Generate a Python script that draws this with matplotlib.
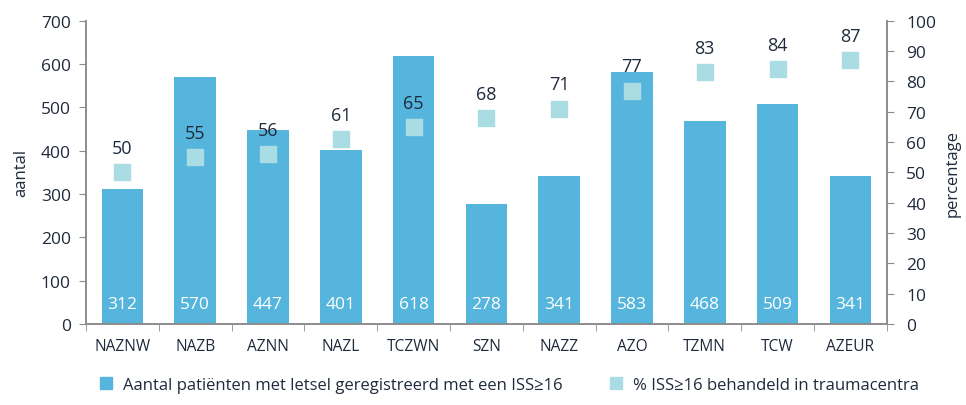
import numpy as np
import matplotlib.pyplot as plt
from matplotlib.lines import Line2D

plt.rcParams['font.family'] = ['Open Sans', 'DejaVu Sans']

# === Data ===
regions = ["NAZNW", "NAZB", "AZNN", "NAZL", "TCZWN", "SZN",
           "NAZZ", "AZO", "TZMN", "TCW", "AZEUR"]
aantal = [312, 570, 447, 401, 618, 278, 341, 583, 468, 509, 341]
pct_trauma = [50, 55, 56, 61, 65, 68, 71, 77, 83, 84, 87]

BAR_COL = "#56b5dd"
MARK_COL = "#a9dce3"
TXT_COL = "#1f2a3c"
AX_COL = "#8c8c8c"

fig = plt.figure(figsize=(9.66, 4.06), dpi=100)
ax = fig.add_axes([0.089, 0.2, 0.829, 0.746])
ax2 = ax.twinx()

x = np.arange(len(regions))
ax.bar(x, aantal, width=0.57, color=BAR_COL, zorder=2)
for xi, v in zip(x, aantal):
    ax.text(xi, 45, str(v), ha="center", va="center", color="white", fontsize=12.5)

ax2.scatter(x, pct_trauma, marker="s", s=120, color=MARK_COL, zorder=3)
for xi, p in zip(x, pct_trauma):
    ax2.annotate(str(p), (xi, p), xytext=(0, 11), textcoords="offset points",
                 ha="center", va="bottom", color=TXT_COL, fontsize=13)

ax.set_xlim(-0.5, len(regions) - 0.5)
ax.set_ylim(0, 700)
ax.set_yticks(range(0, 701, 100))
ax2.set_ylim(0, 100)
ax2.set_yticks(range(0, 101, 10))

ax.set_xticks(x)
ax.set_xticklabels(regions)
ax.set_xticks(np.arange(-0.5, len(regions)), minor=True)
ax.tick_params(axis="x", which="major", length=0, pad=10, labelsize=11.2, labelcolor=TXT_COL)
ax.tick_params(axis="x", which="minor", length=5, color=AX_COL, direction="out")
ax.tick_params(axis="y", labelsize=12.5, labelcolor=TXT_COL, color=AX_COL, length=5, pad=6)
ax2.tick_params(axis="y", labelsize=12.5, labelcolor=TXT_COL, color=AX_COL, length=5, pad=9)

for a in (ax, ax2):
    a.spines["top"].set_visible(False)
    for s in ("left", "right", "bottom"):
        a.spines[s].set_color(AX_COL)
        a.spines[s].set_linewidth(1.2)

ax.set_ylabel("aantal", fontsize=12, color=TXT_COL, labelpad=8)
ax2.set_ylabel("percentage", fontsize=12, color=TXT_COL, labelpad=6)

handles = [
    Line2D([], [], marker="s", linestyle="none", markersize=8, color=BAR_COL),
    Line2D([], [], marker="s", linestyle="none", markersize=8, color=MARK_COL),
]
fig.legend(handles, ["Aantal patiënten met letsel geregistreerd met een ISS≥16",
                     "% ISS≥16 behandeld in traumacentra"],
           loc="center", bbox_to_anchor=(0.522, 0.05), ncol=2, frameon=False,
           fontsize=12, handletextpad=0.0, columnspacing=2.2, labelcolor=TXT_COL)

fig.savefig("out.png", dpi=100)
